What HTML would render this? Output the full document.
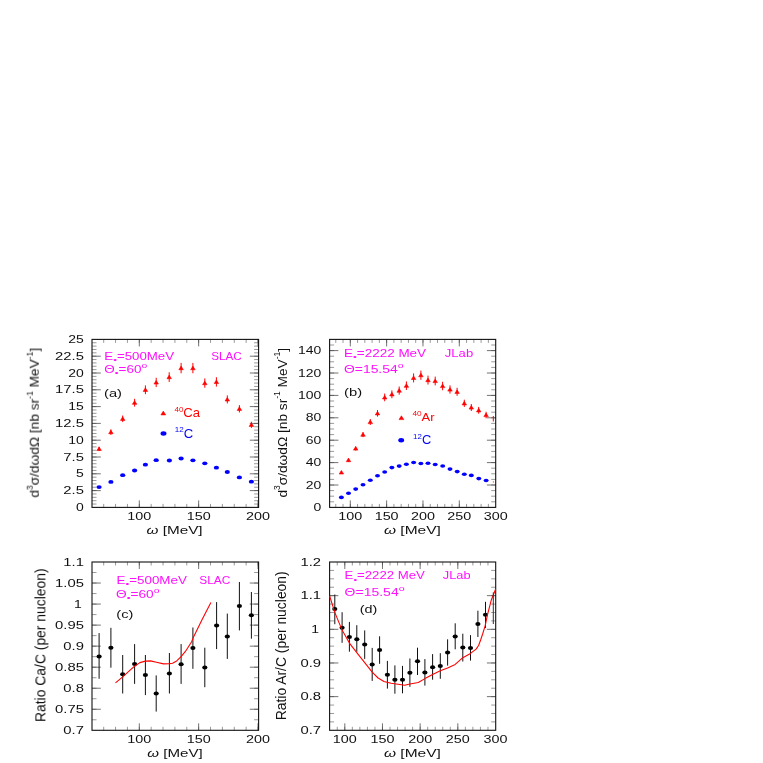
<!DOCTYPE html>
<html><head><meta charset="utf-8"><title>Figure</title>
<style>
html,body{margin:0;padding:0;background:#fff;}
svg{display:block;}
text{font-family:"Liberation Sans",sans-serif;}
</style></head>
<body>
<svg width="763" height="763" viewBox="0 0 763 763">
<rect x="0" y="0" width="763" height="763" fill="#fff"/>
<g opacity="0.999">
<path d="M103.69 507.4v-3.5 M103.69 339.4v3.5 M115.56 507.4v-3.5 M115.56 339.4v3.5 M127.43 507.4v-3.5 M127.43 339.4v3.5 M139.3 507.4v-3.5 M139.3 339.4v3.5 M151.17 507.4v-3.5 M151.17 339.4v3.5 M163.04 507.4v-3.5 M163.04 339.4v3.5 M174.91 507.4v-3.5 M174.91 339.4v3.5 M186.78 507.4v-3.5 M186.78 339.4v3.5 M198.65 507.4v-3.5 M198.65 339.4v3.5 M210.52 507.4v-3.5 M210.52 339.4v3.5 M222.39 507.4v-3.5 M222.39 339.4v3.5 M234.26 507.4v-3.5 M234.26 339.4v3.5 M246.13 507.4v-3.5 M246.13 339.4v3.5 M258 507.4v-3.5 M258 339.4v3.5 M92 504.04h4.5 M258.6 504.04h-4.5 M92 500.68h4.5 M258.6 500.68h-4.5 M92 497.32h4.5 M258.6 497.32h-4.5 M92 493.96h4.5 M258.6 493.96h-4.5 M92 490.6h4.5 M258.6 490.6h-4.5 M92 487.24h4.5 M258.6 487.24h-4.5 M92 483.88h4.5 M258.6 483.88h-4.5 M92 480.52h4.5 M258.6 480.52h-4.5 M92 477.16h4.5 M258.6 477.16h-4.5 M92 473.8h4.5 M258.6 473.8h-4.5 M92 470.44h4.5 M258.6 470.44h-4.5 M92 467.08h4.5 M258.6 467.08h-4.5 M92 463.72h4.5 M258.6 463.72h-4.5 M92 460.36h4.5 M258.6 460.36h-4.5 M92 457h4.5 M258.6 457h-4.5 M92 453.64h4.5 M258.6 453.64h-4.5 M92 450.28h4.5 M258.6 450.28h-4.5 M92 446.92h4.5 M258.6 446.92h-4.5 M92 443.56h4.5 M258.6 443.56h-4.5 M92 440.2h4.5 M258.6 440.2h-4.5 M92 436.84h4.5 M258.6 436.84h-4.5 M92 433.48h4.5 M258.6 433.48h-4.5 M92 430.12h4.5 M258.6 430.12h-4.5 M92 426.76h4.5 M258.6 426.76h-4.5 M92 423.4h4.5 M258.6 423.4h-4.5 M92 420.04h4.5 M258.6 420.04h-4.5 M92 416.68h4.5 M258.6 416.68h-4.5 M92 413.32h4.5 M258.6 413.32h-4.5 M92 409.96h4.5 M258.6 409.96h-4.5 M92 406.6h4.5 M258.6 406.6h-4.5 M92 403.24h4.5 M258.6 403.24h-4.5 M92 399.88h4.5 M258.6 399.88h-4.5 M92 396.52h4.5 M258.6 396.52h-4.5 M92 393.16h4.5 M258.6 393.16h-4.5 M92 389.8h4.5 M258.6 389.8h-4.5 M92 386.44h4.5 M258.6 386.44h-4.5 M92 383.08h4.5 M258.6 383.08h-4.5 M92 379.72h4.5 M258.6 379.72h-4.5 M92 376.36h4.5 M258.6 376.36h-4.5 M92 373h4.5 M258.6 373h-4.5 M92 369.64h4.5 M258.6 369.64h-4.5 M92 366.28h4.5 M258.6 366.28h-4.5 M92 362.92h4.5 M258.6 362.92h-4.5 M92 359.56h4.5 M258.6 359.56h-4.5 M92 356.2h4.5 M258.6 356.2h-4.5 M92 352.84h4.5 M258.6 352.84h-4.5 M92 349.48h4.5 M258.6 349.48h-4.5 M92 346.12h4.5 M258.6 346.12h-4.5 M92 342.76h4.5 M258.6 342.76h-4.5" stroke="#555" stroke-width="0.6" fill="none"/>
<path d="M139.3 507.4v-7 M139.3 339.4v7 M198.65 507.4v-7 M198.65 339.4v7 M258 507.4v-7 M258 339.4v7 M92 490.6h8.8 M258.6 490.6h-8.8 M92 473.8h8.8 M258.6 473.8h-8.8 M92 457h8.8 M258.6 457h-8.8 M92 440.2h8.8 M258.6 440.2h-8.8 M92 423.4h8.8 M258.6 423.4h-8.8 M92 406.6h8.8 M258.6 406.6h-8.8 M92 389.8h8.8 M258.6 389.8h-8.8 M92 373h8.8 M258.6 373h-8.8 M92 356.2h8.8 M258.6 356.2h-8.8" stroke="#444" stroke-width="0.75" fill="none"/>
<rect x="92" y="339.4" width="166.6" height="168" fill="none" stroke="#111" stroke-width="1.1"/>
<text id="t1" transform="translate(139.3 520.1) scale(1.44 1)" text-anchor="middle" font-size="10" fill="#111"><tspan dy="0">100</tspan></text>
<text id="t2" transform="translate(198.65 520.1) scale(1.44 1)" text-anchor="middle" font-size="10" fill="#111"><tspan dy="0">150</tspan></text>
<text id="t3" transform="translate(258 520.1) scale(1.44 1)" text-anchor="middle" font-size="10" fill="#111"><tspan dy="0">200</tspan></text>
<text id="t4" transform="translate(83.9 511) scale(1.4 1)" text-anchor="end" font-size="10" fill="#111"><tspan dy="0">0</tspan></text>
<text id="t5" transform="translate(83.9 494.2) scale(1.48 1)" text-anchor="end" font-size="10" fill="#111"><tspan dy="0">2.5</tspan></text>
<text id="t6" transform="translate(83.9 477.4) scale(1.4 1)" text-anchor="end" font-size="10" fill="#111"><tspan dy="0">5</tspan></text>
<text id="t7" transform="translate(83.9 460.6) scale(1.48 1)" text-anchor="end" font-size="10" fill="#111"><tspan dy="0">7.5</tspan></text>
<text id="t8" transform="translate(83.9 443.8) scale(1.4 1)" text-anchor="end" font-size="10" fill="#111"><tspan dy="0">10</tspan></text>
<text id="t9" transform="translate(83.9 427) scale(1.48 1)" text-anchor="end" font-size="10" fill="#111"><tspan dy="0">12.5</tspan></text>
<text id="t10" transform="translate(83.9 410.2) scale(1.4 1)" text-anchor="end" font-size="10" fill="#111"><tspan dy="0">15</tspan></text>
<text id="t11" transform="translate(83.9 393.4) scale(1.48 1)" text-anchor="end" font-size="10" fill="#111"><tspan dy="0">17.5</tspan></text>
<text id="t12" transform="translate(83.9 376.6) scale(1.4 1)" text-anchor="end" font-size="10" fill="#111"><tspan dy="0">20</tspan></text>
<text id="t13" transform="translate(83.9 359.8) scale(1.48 1)" text-anchor="end" font-size="10" fill="#111"><tspan dy="0">22.5</tspan></text>
<text id="t14" transform="translate(83.9 343) scale(1.4 1)" text-anchor="end" font-size="10" fill="#111"><tspan dy="0">25</tspan></text>
<line x1="99.1" y1="446.72" x2="99.1" y2="451.08" stroke="#ff0000" stroke-width="1"/>
<path d="M99.1 446.92L101.35 450.52L96.85 450.52Z" fill="#f00" stroke="#f00" stroke-width="0.6" stroke-linejoin="round"/>
<line x1="110.9" y1="429.29" x2="110.9" y2="434.91" stroke="#ff0000" stroke-width="1"/>
<path d="M110.9 430.12L113.15 433.72L108.65 433.72Z" fill="#f00" stroke="#f00" stroke-width="0.6" stroke-linejoin="round"/>
<line x1="122.7" y1="415.5" x2="122.7" y2="422.1" stroke="#ff0000" stroke-width="1"/>
<path d="M122.7 416.82L124.95 420.42L120.45 420.42Z" fill="#f00" stroke="#f00" stroke-width="0.6" stroke-linejoin="round"/>
<line x1="134.6" y1="398.79" x2="134.6" y2="406.61" stroke="#ff0000" stroke-width="1"/>
<path d="M134.6 400.72L136.85 404.32L132.35 404.32Z" fill="#f00" stroke="#f00" stroke-width="0.6" stroke-linejoin="round"/>
<line x1="145.4" y1="385.41" x2="145.4" y2="394.19" stroke="#ff0000" stroke-width="1"/>
<path d="M145.4 387.82L147.65 391.42L143.15 391.42Z" fill="#f00" stroke="#f00" stroke-width="0.6" stroke-linejoin="round"/>
<line x1="156.2" y1="377.74" x2="156.2" y2="387.06" stroke="#ff0000" stroke-width="1"/>
<path d="M156.2 380.42L158.45 384.02L153.95 384.02Z" fill="#f00" stroke="#f00" stroke-width="0.6" stroke-linejoin="round"/>
<line x1="169.2" y1="372.24" x2="169.2" y2="381.96" stroke="#ff0000" stroke-width="1"/>
<path d="M169.2 375.12L171.45 378.72L166.95 378.72Z" fill="#f00" stroke="#f00" stroke-width="0.6" stroke-linejoin="round"/>
<line x1="181.1" y1="362.9" x2="181.1" y2="373.3" stroke="#ff0000" stroke-width="1"/>
<path d="M181.1 366.12L183.35 369.72L178.85 369.72Z" fill="#f00" stroke="#f00" stroke-width="0.6" stroke-linejoin="round"/>
<line x1="192.9" y1="362.9" x2="192.9" y2="373.3" stroke="#ff0000" stroke-width="1"/>
<path d="M192.9 366.12L195.15 369.72L190.65 369.72Z" fill="#f00" stroke="#f00" stroke-width="0.6" stroke-linejoin="round"/>
<line x1="204.8" y1="378.46" x2="204.8" y2="387.74" stroke="#ff0000" stroke-width="1"/>
<path d="M204.8 381.12L207.05 384.72L202.55 384.72Z" fill="#f00" stroke="#f00" stroke-width="0.6" stroke-linejoin="round"/>
<line x1="216.4" y1="377.22" x2="216.4" y2="386.58" stroke="#ff0000" stroke-width="1"/>
<path d="M216.4 379.92L218.65 383.52L214.15 383.52Z" fill="#f00" stroke="#f00" stroke-width="0.6" stroke-linejoin="round"/>
<line x1="227.3" y1="395.37" x2="227.3" y2="403.43" stroke="#ff0000" stroke-width="1"/>
<path d="M227.3 397.42L229.55 401.02L225.05 401.02Z" fill="#f00" stroke="#f00" stroke-width="0.6" stroke-linejoin="round"/>
<line x1="239.4" y1="405.12" x2="239.4" y2="412.48" stroke="#ff0000" stroke-width="1"/>
<path d="M239.4 406.82L241.65 410.42L237.15 410.42Z" fill="#f00" stroke="#f00" stroke-width="0.6" stroke-linejoin="round"/>
<line x1="251.4" y1="421.72" x2="251.4" y2="427.88" stroke="#ff0000" stroke-width="1"/>
<path d="M251.4 422.82L253.65 426.42L249.15 426.42Z" fill="#f00" stroke="#f00" stroke-width="0.6" stroke-linejoin="round"/>
<ellipse cx="99.1" cy="487.1" rx="2.6" ry="1.9" fill="#0000ff"/>
<ellipse cx="110.9" cy="481.9" rx="2.6" ry="1.9" fill="#0000ff"/>
<ellipse cx="122.7" cy="475.2" rx="2.6" ry="1.9" fill="#0000ff"/>
<ellipse cx="134.6" cy="470.5" rx="2.6" ry="1.9" fill="#0000ff"/>
<ellipse cx="145.4" cy="464.7" rx="2.6" ry="1.9" fill="#0000ff"/>
<ellipse cx="156.2" cy="460.2" rx="2.6" ry="1.9" fill="#0000ff"/>
<ellipse cx="169.4" cy="460.5" rx="2.6" ry="1.9" fill="#0000ff"/>
<ellipse cx="181.1" cy="458.5" rx="2.6" ry="1.9" fill="#0000ff"/>
<ellipse cx="192.9" cy="460.3" rx="2.6" ry="1.9" fill="#0000ff"/>
<ellipse cx="204.8" cy="463.3" rx="2.6" ry="1.9" fill="#0000ff"/>
<ellipse cx="216.4" cy="467.7" rx="2.6" ry="1.9" fill="#0000ff"/>
<ellipse cx="227.3" cy="472" rx="2.6" ry="1.9" fill="#0000ff"/>
<ellipse cx="239.4" cy="477.4" rx="2.6" ry="1.9" fill="#0000ff"/>
<ellipse cx="251.4" cy="481.7" rx="2.6" ry="1.9" fill="#0000ff"/>
<path d="M163.3 411.11L165.7 414.91L160.9 414.91Z" fill="#ff0000" stroke="#ff0000" stroke-width="0.6" stroke-linejoin="round"/>
<ellipse cx="163.5" cy="433.4" rx="2.95" ry="2.25" fill="#0000ff"/>
<text id="legCa" transform="translate(174.4 417.2) scale(1.06 1)" text-anchor="start" font-size="12.4" fill="#ff0000"><tspan dy="-5.6" font-size="7.6">40</tspan><tspan dy="5.6">Ca</tspan></text>
<text id="legCa2" transform="translate(174.8 437.8) scale(1.06 1)" text-anchor="start" font-size="12.4" fill="#0000ff"><tspan dy="-5.6" font-size="7.6">12</tspan><tspan dy="5.6">C</tspan></text>
<text id="aE" transform="translate(104.3 359.8) scale(1.33 1)" text-anchor="start" font-size="10" fill="#ff10ff"><tspan dy="0">E</tspan><tspan dy="2.3" font-size="8">•</tspan><tspan dy="-2.3">=500MeV</tspan></text>
<text id="aS" transform="translate(211.2 359.8) scale(1.17 1)" text-anchor="start" font-size="10" fill="#ff10ff"><tspan dy="0">SLAC</tspan></text>
<text id="aT" transform="translate(104.3 373.1) scale(1.35 1)" text-anchor="start" font-size="10" fill="#ff10ff"><tspan dy="0">Θ</tspan><tspan dy="2.3" font-size="8">•</tspan><tspan dy="-2.3">=60</tspan><tspan dy="-4.9" font-size="7.6">o</tspan></text>
<text id="aL" transform="translate(104 397) scale(1.47 1)" text-anchor="start" font-size="10" fill="#111"><tspan dy="0">(a)</tspan></text>
<text id="aX" transform="translate(146.5 534) scale(1.53 1)" text-anchor="start" font-size="10" fill="#111"><tspan dy="0" font-style="italic">ω</tspan><tspan dy="0"> [MeV]</tspan></text>
<text id="aY" transform="translate(39 497.6) rotate(-90) scale(1.37 1.35)" text-anchor="start" font-size="10" fill="#111"><tspan dy="0">d</tspan><tspan dy="-4.9" font-size="6.2">3</tspan><tspan dy="4.9">σ/dωdΩ [nb sr</tspan><tspan dy="-4.9" font-size="6.2">-1</tspan><tspan dy="4.9"> MeV</tspan><tspan dy="-4.9" font-size="6.2">-1</tspan><tspan dy="4.9">]</tspan></text>
<path d="M335.77 507.4v-3.5 M335.77 339.4v3.5 M343.03 507.4v-3.5 M343.03 339.4v3.5 M350.3 507.4v-3.5 M350.3 339.4v3.5 M357.57 507.4v-3.5 M357.57 339.4v3.5 M364.83 507.4v-3.5 M364.83 339.4v3.5 M372.1 507.4v-3.5 M372.1 339.4v3.5 M379.37 507.4v-3.5 M379.37 339.4v3.5 M386.63 507.4v-3.5 M386.63 339.4v3.5 M393.9 507.4v-3.5 M393.9 339.4v3.5 M401.17 507.4v-3.5 M401.17 339.4v3.5 M408.44 507.4v-3.5 M408.44 339.4v3.5 M415.7 507.4v-3.5 M415.7 339.4v3.5 M422.97 507.4v-3.5 M422.97 339.4v3.5 M430.24 507.4v-3.5 M430.24 339.4v3.5 M437.5 507.4v-3.5 M437.5 339.4v3.5 M444.77 507.4v-3.5 M444.77 339.4v3.5 M452.04 507.4v-3.5 M452.04 339.4v3.5 M459.31 507.4v-3.5 M459.31 339.4v3.5 M466.57 507.4v-3.5 M466.57 339.4v3.5 M473.84 507.4v-3.5 M473.84 339.4v3.5 M481.11 507.4v-3.5 M481.11 339.4v3.5 M488.37 507.4v-3.5 M488.37 339.4v3.5 M329.6 501.8h4.5 M495.7 501.8h-4.5 M329.6 496.2h4.5 M495.7 496.2h-4.5 M329.6 490.6h4.5 M495.7 490.6h-4.5 M329.6 485h4.5 M495.7 485h-4.5 M329.6 479.4h4.5 M495.7 479.4h-4.5 M329.6 473.8h4.5 M495.7 473.8h-4.5 M329.6 468.2h4.5 M495.7 468.2h-4.5 M329.6 462.6h4.5 M495.7 462.6h-4.5 M329.6 457h4.5 M495.7 457h-4.5 M329.6 451.4h4.5 M495.7 451.4h-4.5 M329.6 445.8h4.5 M495.7 445.8h-4.5 M329.6 440.2h4.5 M495.7 440.2h-4.5 M329.6 434.6h4.5 M495.7 434.6h-4.5 M329.6 429h4.5 M495.7 429h-4.5 M329.6 423.4h4.5 M495.7 423.4h-4.5 M329.6 417.8h4.5 M495.7 417.8h-4.5 M329.6 412.2h4.5 M495.7 412.2h-4.5 M329.6 406.6h4.5 M495.7 406.6h-4.5 M329.6 401h4.5 M495.7 401h-4.5 M329.6 395.4h4.5 M495.7 395.4h-4.5 M329.6 389.8h4.5 M495.7 389.8h-4.5 M329.6 384.2h4.5 M495.7 384.2h-4.5 M329.6 378.6h4.5 M495.7 378.6h-4.5 M329.6 373h4.5 M495.7 373h-4.5 M329.6 367.4h4.5 M495.7 367.4h-4.5 M329.6 361.8h4.5 M495.7 361.8h-4.5 M329.6 356.2h4.5 M495.7 356.2h-4.5 M329.6 350.6h4.5 M495.7 350.6h-4.5 M329.6 345h4.5 M495.7 345h-4.5" stroke="#555" stroke-width="0.6" fill="none"/>
<path d="M350.3 507.4v-7 M350.3 339.4v7 M386.63 507.4v-7 M386.63 339.4v7 M422.97 507.4v-7 M422.97 339.4v7 M459.31 507.4v-7 M459.31 339.4v7 M329.6 485h8.8 M495.7 485h-8.8 M329.6 462.6h8.8 M495.7 462.6h-8.8 M329.6 440.2h8.8 M495.7 440.2h-8.8 M329.6 417.8h8.8 M495.7 417.8h-8.8 M329.6 395.4h8.8 M495.7 395.4h-8.8 M329.6 373h8.8 M495.7 373h-8.8 M329.6 350.6h8.8 M495.7 350.6h-8.8" stroke="#444" stroke-width="0.75" fill="none"/>
<rect x="329.6" y="339.4" width="166.1" height="168" fill="none" stroke="#111" stroke-width="1.1"/>
<text id="t23" transform="translate(350.3 520.1) scale(1.44 1)" text-anchor="middle" font-size="10" fill="#111"><tspan dy="0">100</tspan></text>
<text id="t24" transform="translate(386.63 520.1) scale(1.44 1)" text-anchor="middle" font-size="10" fill="#111"><tspan dy="0">150</tspan></text>
<text id="t25" transform="translate(422.97 520.1) scale(1.44 1)" text-anchor="middle" font-size="10" fill="#111"><tspan dy="0">200</tspan></text>
<text id="t26" transform="translate(459.31 520.1) scale(1.44 1)" text-anchor="middle" font-size="10" fill="#111"><tspan dy="0">250</tspan></text>
<text id="t27" transform="translate(495.64 520.1) scale(1.44 1)" text-anchor="middle" font-size="10" fill="#111"><tspan dy="0">300</tspan></text>
<text id="t28" transform="translate(321.3 511) scale(1.4 1)" text-anchor="end" font-size="10" fill="#111"><tspan dy="0">0</tspan></text>
<text id="t29" transform="translate(321.3 488.6) scale(1.4 1)" text-anchor="end" font-size="10" fill="#111"><tspan dy="0">20</tspan></text>
<text id="t30" transform="translate(321.3 466.2) scale(1.4 1)" text-anchor="end" font-size="10" fill="#111"><tspan dy="0">40</tspan></text>
<text id="t31" transform="translate(321.3 443.8) scale(1.4 1)" text-anchor="end" font-size="10" fill="#111"><tspan dy="0">60</tspan></text>
<text id="t32" transform="translate(321.3 421.4) scale(1.4 1)" text-anchor="end" font-size="10" fill="#111"><tspan dy="0">80</tspan></text>
<text id="t33" transform="translate(321.3 399) scale(1.4 1)" text-anchor="end" font-size="10" fill="#111"><tspan dy="0">100</tspan></text>
<text id="t34" transform="translate(321.3 376.6) scale(1.4 1)" text-anchor="end" font-size="10" fill="#111"><tspan dy="0">120</tspan></text>
<text id="t35" transform="translate(321.3 354.2) scale(1.4 1)" text-anchor="end" font-size="10" fill="#111"><tspan dy="0">140</tspan></text>
<line x1="341.4" y1="471.17" x2="341.4" y2="473.62" stroke="#ff0000" stroke-width="1"/>
<path d="M341.4 470.42L343.65 474.02L339.15 474.02Z" fill="#f00" stroke="#f00" stroke-width="0.6" stroke-linejoin="round"/>
<line x1="348.5" y1="458.44" x2="348.5" y2="461.76" stroke="#ff0000" stroke-width="1"/>
<path d="M348.5 458.12L350.75 461.72L346.25 461.72Z" fill="#f00" stroke="#f00" stroke-width="0.6" stroke-linejoin="round"/>
<line x1="355.7" y1="446.44" x2="355.7" y2="450.56" stroke="#ff0000" stroke-width="1"/>
<path d="M355.7 446.52L357.95 450.12L353.45 450.12Z" fill="#f00" stroke="#f00" stroke-width="0.6" stroke-linejoin="round"/>
<line x1="363" y1="432.05" x2="363" y2="437.15" stroke="#ff0000" stroke-width="1"/>
<path d="M363 432.62L365.25 436.22L360.75 436.22Z" fill="#f00" stroke="#f00" stroke-width="0.6" stroke-linejoin="round"/>
<line x1="370.3" y1="419.01" x2="370.3" y2="424.99" stroke="#ff0000" stroke-width="1"/>
<path d="M370.3 420.02L372.55 423.62L368.05 423.62Z" fill="#f00" stroke="#f00" stroke-width="0.6" stroke-linejoin="round"/>
<line x1="377.5" y1="410.01" x2="377.5" y2="416.59" stroke="#ff0000" stroke-width="1"/>
<path d="M377.5 411.32L379.75 414.92L375.25 414.92Z" fill="#f00" stroke="#f00" stroke-width="0.6" stroke-linejoin="round"/>
<line x1="384.7" y1="393.55" x2="384.7" y2="401.25" stroke="#ff0000" stroke-width="1"/>
<path d="M384.7 395.42L386.95 399.02L382.45 399.02Z" fill="#f00" stroke="#f00" stroke-width="0.6" stroke-linejoin="round"/>
<line x1="391.9" y1="390.34" x2="391.9" y2="398.26" stroke="#ff0000" stroke-width="1"/>
<path d="M391.9 392.32L394.15 395.92L389.65 395.92Z" fill="#f00" stroke="#f00" stroke-width="0.6" stroke-linejoin="round"/>
<line x1="399.2" y1="386.51" x2="399.2" y2="394.69" stroke="#ff0000" stroke-width="1"/>
<path d="M399.2 388.62L401.45 392.22L396.95 392.22Z" fill="#f00" stroke="#f00" stroke-width="0.6" stroke-linejoin="round"/>
<line x1="406.4" y1="381.44" x2="406.4" y2="389.96" stroke="#ff0000" stroke-width="1"/>
<path d="M406.4 383.72L408.65 387.32L404.15 387.32Z" fill="#f00" stroke="#f00" stroke-width="0.6" stroke-linejoin="round"/>
<line x1="413.6" y1="373.37" x2="413.6" y2="382.43" stroke="#ff0000" stroke-width="1"/>
<path d="M413.6 375.92L415.85 379.52L411.35 379.52Z" fill="#f00" stroke="#f00" stroke-width="0.6" stroke-linejoin="round"/>
<line x1="420.9" y1="370.57" x2="420.9" y2="379.83" stroke="#ff0000" stroke-width="1"/>
<path d="M420.9 373.22L423.15 376.82L418.65 376.82Z" fill="#f00" stroke="#f00" stroke-width="0.6" stroke-linejoin="round"/>
<line x1="428" y1="375.64" x2="428" y2="384.56" stroke="#ff0000" stroke-width="1"/>
<path d="M428 378.12L430.25 381.72L425.75 381.72Z" fill="#f00" stroke="#f00" stroke-width="0.6" stroke-linejoin="round"/>
<line x1="435.2" y1="376.58" x2="435.2" y2="385.42" stroke="#ff0000" stroke-width="1"/>
<path d="M435.2 379.02L437.45 382.62L432.95 382.62Z" fill="#f00" stroke="#f00" stroke-width="0.6" stroke-linejoin="round"/>
<line x1="442.6" y1="381.75" x2="442.6" y2="390.25" stroke="#ff0000" stroke-width="1"/>
<path d="M442.6 384.02L444.85 387.62L440.35 387.62Z" fill="#f00" stroke="#f00" stroke-width="0.6" stroke-linejoin="round"/>
<line x1="450" y1="385.37" x2="450" y2="393.63" stroke="#ff0000" stroke-width="1"/>
<path d="M450 387.52L452.25 391.12L447.75 391.12Z" fill="#f00" stroke="#f00" stroke-width="0.6" stroke-linejoin="round"/>
<line x1="457.1" y1="387.75" x2="457.1" y2="395.85" stroke="#ff0000" stroke-width="1"/>
<path d="M457.1 389.82L459.35 393.42L454.85 393.42Z" fill="#f00" stroke="#f00" stroke-width="0.6" stroke-linejoin="round"/>
<line x1="464.3" y1="399.66" x2="464.3" y2="406.94" stroke="#ff0000" stroke-width="1"/>
<path d="M464.3 401.32L466.55 404.92L462.05 404.92Z" fill="#f00" stroke="#f00" stroke-width="0.6" stroke-linejoin="round"/>
<line x1="471.3" y1="404" x2="471.3" y2="411" stroke="#ff0000" stroke-width="1"/>
<path d="M471.3 405.52L473.55 409.12L469.05 409.12Z" fill="#f00" stroke="#f00" stroke-width="0.6" stroke-linejoin="round"/>
<line x1="478.7" y1="406.9" x2="478.7" y2="413.7" stroke="#ff0000" stroke-width="1"/>
<path d="M478.7 408.32L480.95 411.92L476.45 411.92Z" fill="#f00" stroke="#f00" stroke-width="0.6" stroke-linejoin="round"/>
<line x1="486.1" y1="411.77" x2="486.1" y2="418.23" stroke="#ff0000" stroke-width="1"/>
<path d="M486.1 413.02L488.35 416.62L483.85 416.62Z" fill="#f00" stroke="#f00" stroke-width="0.6" stroke-linejoin="round"/>
<line x1="493.3" y1="416" x2="493.3" y2="421.5" stroke="#ff0000" stroke-width="1"/>
<rect x="492.8" y="481.3" width="1.2" height="1.2" fill="#f55"/>
<ellipse cx="341.4" cy="497.4" rx="2.5" ry="1.8" fill="#0000ff"/>
<ellipse cx="348.5" cy="493.2" rx="2.5" ry="1.8" fill="#0000ff"/>
<ellipse cx="355.7" cy="489.1" rx="2.5" ry="1.8" fill="#0000ff"/>
<ellipse cx="363" cy="484.7" rx="2.5" ry="1.8" fill="#0000ff"/>
<ellipse cx="370.3" cy="480.3" rx="2.5" ry="1.8" fill="#0000ff"/>
<ellipse cx="377.5" cy="475.8" rx="2.5" ry="1.8" fill="#0000ff"/>
<ellipse cx="384.7" cy="472" rx="2.5" ry="1.8" fill="#0000ff"/>
<ellipse cx="391.9" cy="467.6" rx="2.5" ry="1.8" fill="#0000ff"/>
<ellipse cx="399.2" cy="466.1" rx="2.5" ry="1.8" fill="#0000ff"/>
<ellipse cx="406.4" cy="464.2" rx="2.5" ry="1.8" fill="#0000ff"/>
<ellipse cx="413.6" cy="462.5" rx="2.5" ry="1.8" fill="#0000ff"/>
<ellipse cx="420.9" cy="463.5" rx="2.5" ry="1.8" fill="#0000ff"/>
<ellipse cx="428" cy="463.3" rx="2.5" ry="1.8" fill="#0000ff"/>
<ellipse cx="435.2" cy="464.5" rx="2.5" ry="1.8" fill="#0000ff"/>
<ellipse cx="442.7" cy="466" rx="2.5" ry="1.8" fill="#0000ff"/>
<ellipse cx="450" cy="469.1" rx="2.5" ry="1.8" fill="#0000ff"/>
<ellipse cx="457.2" cy="471.6" rx="2.5" ry="1.8" fill="#0000ff"/>
<ellipse cx="464.3" cy="474.3" rx="2.5" ry="1.8" fill="#0000ff"/>
<ellipse cx="471.3" cy="475.4" rx="2.5" ry="1.8" fill="#0000ff"/>
<ellipse cx="478.8" cy="478.6" rx="2.5" ry="1.8" fill="#0000ff"/>
<ellipse cx="486.1" cy="480.5" rx="2.5" ry="1.8" fill="#0000ff"/>
<path d="M401.4 415.81L403.8 419.61L399 419.61Z" fill="#ff0000" stroke="#ff0000" stroke-width="0.6" stroke-linejoin="round"/>
<ellipse cx="401.2" cy="440.2" rx="2.9" ry="2.2" fill="#0000ff"/>
<text id="legAr" transform="translate(412.4 420.9) scale(1.12 1)" text-anchor="start" font-size="11.6" fill="#ff0000"><tspan dy="-5.2" font-size="7.4">40</tspan><tspan dy="5.2">Ar</tspan></text>
<text id="legAr2" transform="translate(413.1 444.2) scale(1.07 1)" text-anchor="start" font-size="12" fill="#0000ff"><tspan dy="-5.4" font-size="7.4">12</tspan><tspan dy="5.4">C</tspan></text>
<text id="bE" transform="translate(344 356.8) scale(1.35 1)" text-anchor="start" font-size="10" fill="#ff10ff"><tspan dy="0">E</tspan><tspan dy="2.3" font-size="8">•</tspan><tspan dy="-2.3">=2222 MeV</tspan></text>
<text id="bS" transform="translate(444.8 356.8) scale(1.31 1)" text-anchor="start" font-size="10" fill="#ff10ff"><tspan dy="0">JLab</tspan></text>
<text id="bT" transform="translate(344 373) scale(1.39 1)" text-anchor="start" font-size="10" fill="#ff10ff"><tspan dy="0">Θ=15.54</tspan><tspan dy="-4.9" font-size="7.6">o</tspan></text>
<text id="bL" transform="translate(344 396) scale(1.48 1)" text-anchor="start" font-size="10" fill="#111"><tspan dy="0">(b)</tspan></text>
<text id="bX" transform="translate(384 534.3) scale(1.55 1)" text-anchor="start" font-size="10" fill="#111"><tspan dy="0" font-style="italic">ω</tspan><tspan dy="0"> [MeV]</tspan></text>
<text id="bY" transform="translate(287 497.6) rotate(-90) scale(1.37 1.35)" text-anchor="start" font-size="10" fill="#111"><tspan dy="0">d</tspan><tspan dy="-4.9" font-size="6.2">3</tspan><tspan dy="4.9">σ/dωdΩ [nb sr</tspan><tspan dy="-4.9" font-size="6.2">-1</tspan><tspan dy="4.9"> MeV</tspan><tspan dy="-4.9" font-size="6.2">-1</tspan><tspan dy="4.9">]</tspan></text>
<path d="M103.69 730.3v-3.5 M103.69 562v3.5 M115.56 730.3v-3.5 M115.56 562v3.5 M127.43 730.3v-3.5 M127.43 562v3.5 M139.3 730.3v-3.5 M139.3 562v3.5 M151.17 730.3v-3.5 M151.17 562v3.5 M163.04 730.3v-3.5 M163.04 562v3.5 M174.91 730.3v-3.5 M174.91 562v3.5 M186.78 730.3v-3.5 M186.78 562v3.5 M198.65 730.3v-3.5 M198.65 562v3.5 M210.52 730.3v-3.5 M210.52 562v3.5 M222.39 730.3v-3.5 M222.39 562v3.5 M234.26 730.3v-3.5 M234.26 562v3.5 M246.13 730.3v-3.5 M246.13 562v3.5 M258 730.3v-3.5 M258 562v3.5 M92 719.78h4.5 M258.6 719.78h-4.5 M92 709.26h4.5 M258.6 709.26h-4.5 M92 698.74h4.5 M258.6 698.74h-4.5 M92 688.22h4.5 M258.6 688.22h-4.5 M92 677.71h4.5 M258.6 677.71h-4.5 M92 667.19h4.5 M258.6 667.19h-4.5 M92 656.67h4.5 M258.6 656.67h-4.5 M92 646.15h4.5 M258.6 646.15h-4.5 M92 635.63h4.5 M258.6 635.63h-4.5 M92 625.11h4.5 M258.6 625.11h-4.5 M92 614.59h4.5 M258.6 614.59h-4.5 M92 604.07h4.5 M258.6 604.07h-4.5 M92 593.56h4.5 M258.6 593.56h-4.5 M92 583.04h4.5 M258.6 583.04h-4.5 M92 572.52h4.5 M258.6 572.52h-4.5" stroke="#555" stroke-width="0.6" fill="none"/>
<path d="M139.3 730.3v-7 M139.3 562v7 M198.65 730.3v-7 M198.65 562v7 M258 730.3v-7 M258 562v7 M92 709.26h8.8 M258.6 709.26h-8.8 M92 688.22h8.8 M258.6 688.22h-8.8 M92 667.19h8.8 M258.6 667.19h-8.8 M92 646.15h8.8 M258.6 646.15h-8.8 M92 625.11h8.8 M258.6 625.11h-8.8 M92 604.07h8.8 M258.6 604.07h-8.8 M92 583.04h8.8 M258.6 583.04h-8.8" stroke="#444" stroke-width="0.75" fill="none"/>
<rect x="92" y="562" width="166.6" height="168.3" fill="none" stroke="#111" stroke-width="1.1"/>
<text id="t44" transform="translate(139.3 743) scale(1.44 1)" text-anchor="middle" font-size="10" fill="#111"><tspan dy="0">100</tspan></text>
<text id="t45" transform="translate(198.65 743) scale(1.44 1)" text-anchor="middle" font-size="10" fill="#111"><tspan dy="0">150</tspan></text>
<text id="t46" transform="translate(258 743) scale(1.44 1)" text-anchor="middle" font-size="10" fill="#111"><tspan dy="0">200</tspan></text>
<text id="t47" transform="translate(83.9 733.9) scale(1.48 1)" text-anchor="end" font-size="10" fill="#111"><tspan dy="0">0.7</tspan></text>
<text id="t48" transform="translate(83.9 712.86) scale(1.48 1)" text-anchor="end" font-size="10" fill="#111"><tspan dy="0">0.75</tspan></text>
<text id="t49" transform="translate(83.9 691.82) scale(1.48 1)" text-anchor="end" font-size="10" fill="#111"><tspan dy="0">0.8</tspan></text>
<text id="t50" transform="translate(83.9 670.79) scale(1.48 1)" text-anchor="end" font-size="10" fill="#111"><tspan dy="0">0.85</tspan></text>
<text id="t51" transform="translate(83.9 649.75) scale(1.48 1)" text-anchor="end" font-size="10" fill="#111"><tspan dy="0">0.9</tspan></text>
<text id="t52" transform="translate(83.9 628.71) scale(1.48 1)" text-anchor="end" font-size="10" fill="#111"><tspan dy="0">0.95</tspan></text>
<text id="t53" transform="translate(81.9 607.67) scale(1.4 1)" text-anchor="end" font-size="10" fill="#111"><tspan dy="0">1</tspan></text>
<text id="t54" transform="translate(83.9 586.64) scale(1.48 1)" text-anchor="end" font-size="10" fill="#111"><tspan dy="0">1.05</tspan></text>
<text id="t55" transform="translate(83.9 565.6) scale(1.48 1)" text-anchor="end" font-size="10" fill="#111"><tspan dy="0">1.1</tspan></text>
<line x1="99.1" y1="633.1" x2="99.1" y2="678.8" stroke="#111" stroke-width="1"/>
<ellipse cx="99.1" cy="656.4" rx="2.6" ry="2" fill="#000"/>
<line x1="110.9" y1="627.8" x2="110.9" y2="667.7" stroke="#111" stroke-width="1"/>
<ellipse cx="110.9" cy="647.7" rx="2.6" ry="2" fill="#000"/>
<line x1="122.7" y1="655" x2="122.7" y2="693.5" stroke="#111" stroke-width="1"/>
<ellipse cx="122.7" cy="674.2" rx="2.6" ry="2" fill="#000"/>
<line x1="134.6" y1="644.1" x2="134.6" y2="683.9" stroke="#111" stroke-width="1"/>
<ellipse cx="134.6" cy="664.1" rx="2.6" ry="2" fill="#000"/>
<line x1="145.4" y1="655" x2="145.4" y2="695.1" stroke="#111" stroke-width="1"/>
<ellipse cx="145.4" cy="675" rx="2.6" ry="2" fill="#000"/>
<line x1="156.2" y1="675.4" x2="156.2" y2="711.6" stroke="#111" stroke-width="1"/>
<ellipse cx="156.2" cy="693.5" rx="2.6" ry="2" fill="#000"/>
<line x1="169.4" y1="653" x2="169.4" y2="693.5" stroke="#111" stroke-width="1"/>
<ellipse cx="169.4" cy="673.4" rx="2.6" ry="2" fill="#000"/>
<line x1="181.1" y1="644.1" x2="181.1" y2="683.9" stroke="#111" stroke-width="1"/>
<ellipse cx="181.1" cy="664.2" rx="2.6" ry="2" fill="#000"/>
<line x1="192.9" y1="627.5" x2="192.9" y2="668.8" stroke="#111" stroke-width="1"/>
<ellipse cx="192.9" cy="648.1" rx="2.6" ry="2" fill="#000"/>
<line x1="204.8" y1="647.7" x2="204.8" y2="687.2" stroke="#111" stroke-width="1"/>
<ellipse cx="204.8" cy="667.4" rx="2.6" ry="2" fill="#000"/>
<line x1="216.6" y1="602.1" x2="216.6" y2="649.1" stroke="#111" stroke-width="1"/>
<ellipse cx="216.6" cy="625.4" rx="2.6" ry="2" fill="#000"/>
<line x1="227.3" y1="613.6" x2="227.3" y2="658.9" stroke="#111" stroke-width="1"/>
<ellipse cx="227.3" cy="636.4" rx="2.6" ry="2" fill="#000"/>
<line x1="239.4" y1="582" x2="239.4" y2="630.4" stroke="#111" stroke-width="1"/>
<ellipse cx="239.4" cy="606.1" rx="2.6" ry="2" fill="#000"/>
<line x1="251.4" y1="592" x2="251.4" y2="638.7" stroke="#111" stroke-width="1"/>
<ellipse cx="251.4" cy="615.3" rx="2.6" ry="2" fill="#000"/>
<polyline points="115.5,682.9 122.7,676.8 129.3,670.9 134.6,666.2 139.9,662.6 145.4,661.1 150.5,660.9 156.4,662.3 163.5,663.9 169.4,663.8 172.5,663.2 176.7,660.9 181.1,656.7 186.2,650.3 191.5,642 193.3,637.6 202,619.7 210.9,602.4" fill="none" stroke="#ff0000" stroke-width="1.1" stroke-linejoin="round"/>
<text id="cE" transform="translate(116.5 583.5) scale(1.34 1)" text-anchor="start" font-size="10" fill="#ff10ff"><tspan dy="0">E</tspan><tspan dy="2.3" font-size="8">•</tspan><tspan dy="-2.3">=500MeV</tspan></text>
<text id="cS" transform="translate(199.2 583.5) scale(1.19 1)" text-anchor="start" font-size="10" fill="#ff10ff"><tspan dy="0">SLAC</tspan></text>
<text id="cT" transform="translate(116 597.7) scale(1.37 1)" text-anchor="start" font-size="10" fill="#ff10ff"><tspan dy="0">Θ</tspan><tspan dy="2.3" font-size="8">•</tspan><tspan dy="-2.3">=60</tspan><tspan dy="-4.9" font-size="7.6">o</tspan></text>
<text id="cL" transform="translate(116.3 618) scale(1.46 1)" text-anchor="start" font-size="10" fill="#111"><tspan dy="0">(c)</tspan></text>
<text id="cX" transform="translate(147.3 756.7) scale(1.51 1)" text-anchor="start" font-size="10" fill="#111"><tspan dy="0" font-style="italic">ω</tspan><tspan dy="0"> [MeV]</tspan></text>
<text id="cY" transform="translate(45.6 722) rotate(-90) scale(1.39 1.4)" text-anchor="start" font-size="10" fill="#111"><tspan dy="0">Ratio Ca/C (per nucleon)</tspan></text>
<path d="M337.26 730.3v-3.5 M337.26 562v3.5 M344.8 730.3v-3.5 M344.8 562v3.5 M352.34 730.3v-3.5 M352.34 562v3.5 M359.87 730.3v-3.5 M359.87 562v3.5 M367.41 730.3v-3.5 M367.41 562v3.5 M374.94 730.3v-3.5 M374.94 562v3.5 M382.48 730.3v-3.5 M382.48 562v3.5 M390.01 730.3v-3.5 M390.01 562v3.5 M397.55 730.3v-3.5 M397.55 562v3.5 M405.08 730.3v-3.5 M405.08 562v3.5 M412.62 730.3v-3.5 M412.62 562v3.5 M420.15 730.3v-3.5 M420.15 562v3.5 M427.69 730.3v-3.5 M427.69 562v3.5 M435.22 730.3v-3.5 M435.22 562v3.5 M442.75 730.3v-3.5 M442.75 562v3.5 M450.29 730.3v-3.5 M450.29 562v3.5 M457.82 730.3v-3.5 M457.82 562v3.5 M465.36 730.3v-3.5 M465.36 562v3.5 M472.89 730.3v-3.5 M472.89 562v3.5 M480.43 730.3v-3.5 M480.43 562v3.5 M487.97 730.3v-3.5 M487.97 562v3.5 M329.6 721.88h4.5 M495.7 721.88h-4.5 M329.6 713.47h4.5 M495.7 713.47h-4.5 M329.6 705.05h4.5 M495.7 705.05h-4.5 M329.6 696.64h4.5 M495.7 696.64h-4.5 M329.6 688.22h4.5 M495.7 688.22h-4.5 M329.6 679.81h4.5 M495.7 679.81h-4.5 M329.6 671.39h4.5 M495.7 671.39h-4.5 M329.6 662.98h4.5 M495.7 662.98h-4.5 M329.6 654.56h4.5 M495.7 654.56h-4.5 M329.6 646.15h4.5 M495.7 646.15h-4.5 M329.6 637.73h4.5 M495.7 637.73h-4.5 M329.6 629.32h4.5 M495.7 629.32h-4.5 M329.6 620.9h4.5 M495.7 620.9h-4.5 M329.6 612.49h4.5 M495.7 612.49h-4.5 M329.6 604.07h4.5 M495.7 604.07h-4.5 M329.6 595.66h4.5 M495.7 595.66h-4.5 M329.6 587.24h4.5 M495.7 587.24h-4.5 M329.6 578.83h4.5 M495.7 578.83h-4.5 M329.6 570.41h4.5 M495.7 570.41h-4.5" stroke="#555" stroke-width="0.6" fill="none"/>
<path d="M344.8 730.3v-7 M344.8 562v7 M382.48 730.3v-7 M382.48 562v7 M420.15 730.3v-7 M420.15 562v7 M457.82 730.3v-7 M457.82 562v7 M329.6 696.64h8.8 M495.7 696.64h-8.8 M329.6 662.98h8.8 M495.7 662.98h-8.8 M329.6 629.32h8.8 M495.7 629.32h-8.8 M329.6 595.66h8.8 M495.7 595.66h-8.8" stroke="#444" stroke-width="0.75" fill="none"/>
<rect x="329.6" y="562" width="166.1" height="168.3" fill="none" stroke="#111" stroke-width="1.1"/>
<text id="t62" transform="translate(344.8 743) scale(1.44 1)" text-anchor="middle" font-size="10" fill="#111"><tspan dy="0">100</tspan></text>
<text id="t63" transform="translate(382.48 743) scale(1.44 1)" text-anchor="middle" font-size="10" fill="#111"><tspan dy="0">150</tspan></text>
<text id="t64" transform="translate(420.15 743) scale(1.44 1)" text-anchor="middle" font-size="10" fill="#111"><tspan dy="0">200</tspan></text>
<text id="t65" transform="translate(457.82 743) scale(1.44 1)" text-anchor="middle" font-size="10" fill="#111"><tspan dy="0">250</tspan></text>
<text id="t66" transform="translate(495.5 743) scale(1.44 1)" text-anchor="middle" font-size="10" fill="#111"><tspan dy="0">300</tspan></text>
<text id="t67" transform="translate(321 733.9) scale(1.48 1)" text-anchor="end" font-size="10" fill="#111"><tspan dy="0">0.7</tspan></text>
<text id="t68" transform="translate(321 700.24) scale(1.48 1)" text-anchor="end" font-size="10" fill="#111"><tspan dy="0">0.8</tspan></text>
<text id="t69" transform="translate(321 666.58) scale(1.48 1)" text-anchor="end" font-size="10" fill="#111"><tspan dy="0">0.9</tspan></text>
<text id="t70" transform="translate(319 632.92) scale(1.4 1)" text-anchor="end" font-size="10" fill="#111"><tspan dy="0">1</tspan></text>
<text id="t71" transform="translate(321 599.26) scale(1.48 1)" text-anchor="end" font-size="10" fill="#111"><tspan dy="0">1.1</tspan></text>
<text id="t72" transform="translate(321 565.6) scale(1.48 1)" text-anchor="end" font-size="10" fill="#111"><tspan dy="0">1.2</tspan></text>
<line x1="334.8" y1="594.5" x2="334.8" y2="624.2" stroke="#111" stroke-width="1"/>
<ellipse cx="334.8" cy="609" rx="2.6" ry="2" fill="#000"/>
<line x1="342.1" y1="612.2" x2="342.1" y2="642.8" stroke="#111" stroke-width="1"/>
<ellipse cx="342.1" cy="627.8" rx="2.6" ry="2" fill="#000"/>
<line x1="349.4" y1="621.9" x2="349.4" y2="651.7" stroke="#111" stroke-width="1"/>
<ellipse cx="349.4" cy="637" rx="2.6" ry="2" fill="#000"/>
<line x1="356.8" y1="625.2" x2="356.8" y2="651.7" stroke="#111" stroke-width="1"/>
<ellipse cx="356.8" cy="639.2" rx="2.6" ry="2" fill="#000"/>
<line x1="364.7" y1="630.4" x2="364.7" y2="658.9" stroke="#111" stroke-width="1"/>
<ellipse cx="364.7" cy="644.4" rx="2.6" ry="2" fill="#000"/>
<line x1="372.2" y1="647.9" x2="372.2" y2="680.9" stroke="#111" stroke-width="1"/>
<ellipse cx="372.2" cy="664.4" rx="2.6" ry="2" fill="#000"/>
<line x1="379.6" y1="636.3" x2="379.6" y2="663.8" stroke="#111" stroke-width="1"/>
<ellipse cx="379.6" cy="649.9" rx="2.6" ry="2" fill="#000"/>
<line x1="387.4" y1="660.9" x2="387.4" y2="688.6" stroke="#111" stroke-width="1"/>
<ellipse cx="387.4" cy="674.7" rx="2.6" ry="2" fill="#000"/>
<line x1="394.9" y1="665.4" x2="394.9" y2="693.7" stroke="#111" stroke-width="1"/>
<ellipse cx="394.9" cy="679.7" rx="2.6" ry="2" fill="#000"/>
<line x1="402.5" y1="665.9" x2="402.5" y2="693.3" stroke="#111" stroke-width="1"/>
<ellipse cx="402.5" cy="679.7" rx="2.6" ry="2" fill="#000"/>
<line x1="409.9" y1="658.5" x2="409.9" y2="686.8" stroke="#111" stroke-width="1"/>
<ellipse cx="409.9" cy="672.7" rx="2.6" ry="2" fill="#000"/>
<line x1="417.5" y1="647.7" x2="417.5" y2="675" stroke="#111" stroke-width="1"/>
<ellipse cx="417.5" cy="661.2" rx="2.6" ry="2" fill="#000"/>
<line x1="424.9" y1="659.1" x2="424.9" y2="685.6" stroke="#111" stroke-width="1"/>
<ellipse cx="424.9" cy="672.4" rx="2.6" ry="2" fill="#000"/>
<line x1="432.6" y1="654.1" x2="432.6" y2="679.7" stroke="#111" stroke-width="1"/>
<ellipse cx="432.6" cy="667.2" rx="2.6" ry="2" fill="#000"/>
<line x1="440.3" y1="653.2" x2="440.3" y2="678.8" stroke="#111" stroke-width="1"/>
<ellipse cx="440.3" cy="665.9" rx="2.6" ry="2" fill="#000"/>
<line x1="447.6" y1="639.3" x2="447.6" y2="665.6" stroke="#111" stroke-width="1"/>
<ellipse cx="447.6" cy="652.6" rx="2.6" ry="2" fill="#000"/>
<line x1="455.2" y1="623.3" x2="455.2" y2="649.3" stroke="#111" stroke-width="1"/>
<ellipse cx="455.2" cy="636.4" rx="2.6" ry="2" fill="#000"/>
<line x1="462.8" y1="633.7" x2="462.8" y2="661.5" stroke="#111" stroke-width="1"/>
<ellipse cx="462.8" cy="647.5" rx="2.6" ry="2" fill="#000"/>
<line x1="470.5" y1="635.1" x2="470.5" y2="660.6" stroke="#111" stroke-width="1"/>
<ellipse cx="470.5" cy="647.9" rx="2.6" ry="2" fill="#000"/>
<line x1="477.9" y1="610.7" x2="477.9" y2="637" stroke="#111" stroke-width="1"/>
<ellipse cx="477.9" cy="624" rx="2.6" ry="2" fill="#000"/>
<line x1="485.5" y1="601.8" x2="485.5" y2="628" stroke="#111" stroke-width="1"/>
<ellipse cx="485.5" cy="614.8" rx="2.6" ry="2" fill="#000"/>
<polyline points="329.6,595.9 334.8,612.4 342.1,630.1 349.4,643.1 356.8,652.6 364.7,662.6 372.2,672.1 378.1,678 384,681.5 391.1,683.3 398.1,684.2 404.6,685.3 409.9,684 418.3,682.5 424.9,678.6 432.6,674.4 440.3,670.7 447.6,667.9 455.2,664.4 462.8,657.7 470.5,653.4 476.1,649.1 478.6,645.5 480.6,640 482.8,633.5 485.2,625.6 487.5,614.6 491.4,599.7 495.7,589" fill="none" stroke="#ff0000" stroke-width="1.1" stroke-linejoin="round"/>
<line x1="493.3" y1="592.3" x2="493.3" y2="624" stroke="#333" stroke-width="1"/>
<text id="dE" transform="translate(344.6 579.2) scale(1.32 1)" text-anchor="start" font-size="10" fill="#ff10ff"><tspan dy="0">E</tspan><tspan dy="2.3" font-size="8">•</tspan><tspan dy="-2.3">=2222 MeV</tspan></text>
<text id="dS" transform="translate(442.8 579.2) scale(1.28 1)" text-anchor="start" font-size="10" fill="#ff10ff"><tspan dy="0">JLab</tspan></text>
<text id="dT" transform="translate(344.6 595.6) scale(1.4 1)" text-anchor="start" font-size="10" fill="#ff10ff"><tspan dy="0">Θ=15.54</tspan><tspan dy="-4.9" font-size="7.6">o</tspan></text>
<text id="dL" transform="translate(359.8 613) scale(1.44 1)" text-anchor="start" font-size="10" fill="#111"><tspan dy="0">(d)</tspan></text>
<text id="dX" transform="translate(384 756.7) scale(1.55 1)" text-anchor="start" font-size="10" fill="#111"><tspan dy="0" font-style="italic">ω</tspan><tspan dy="0"> [MeV]</tspan></text>
<text id="dY" transform="translate(285.6 720.3) rotate(-90) scale(1.39 1.4)" text-anchor="start" font-size="10" fill="#111"><tspan dy="0">Ratio Ar/C (per nucleon)</tspan></text>
</g>
</svg>
</body></html>
